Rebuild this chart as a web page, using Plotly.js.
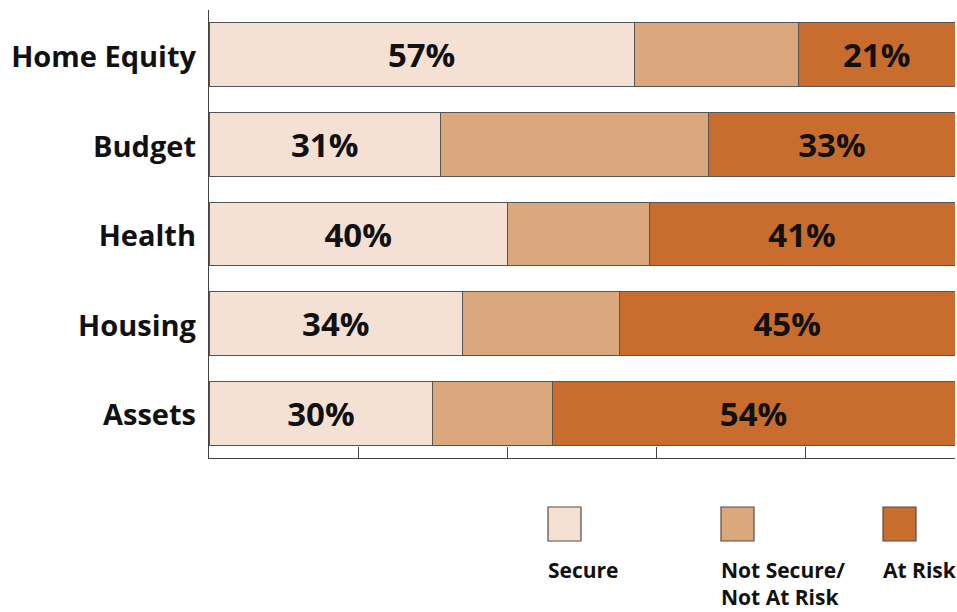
<!DOCTYPE html>
<html>
<head>
<meta charset="utf-8">
<script src="https://cdn.plot.ly/plotly-3.0.1.min.js"></script>
<style>html,body{margin:0;padding:0;background:#fff;}#chart{width:957px;height:612px;}</style>
</head>
<body>
<div id="chart"></div>
<script>
const categories = ["Home Equity", "Budget", "Health", "Housing", "Assets"];
const seriesNames = ["Secure", "Not Secure/<br>Not At Risk", "At Risk"];
const secure = [57, 31, 40, 34, 30];
const notSecure = [22, 36, 19, 21, 16];
const atRisk = [21, 33, 41, 45, 54];
const showLabel = [true, false, true];
const colors = ["#F5E1D4", "#DBA77C", "#C96D2E"];

const FONT = "Open Sans, Liberation Sans, sans-serif";
const values = [secure, notSecure, atRisk];

const traces = values.map((v, i) => ({
  type: "bar",
  orientation: "h",
  name: seriesNames[i],
  y: categories,
  x: v,
  marker: {color: colors[i], line: {color: "#555555", width: 1}},
  text: showLabel[i] ? v.map(d => d + "%") : v.map(() => ""),
  textposition: "inside",
  insidetextanchor: "middle",
  textangle: 0,
  textfont: {family: FONT, size: 33, color: "#111111", weight: 700},
  hoverinfo: "skip",
  showlegend: false
}));

// plot area in pixels
const L = 209, R = 955, T = 10, B = 458, W = 957, H = 612;
const px = x => (x - L) / (R - L);
const py = y => (B - y) / (B - T);

const swatchX = [548, 721, 883];
const shapes = swatchX.map((x, i) => ({
  type: "rect", xref: "paper", yref: "paper",
  x0: px(x), x1: px(x + 33), y0: py(507), y1: py(541),
  fillcolor: colors[i], line: {color: "#5a4a40", width: 1.2}
}));
const annotations = swatchX.map((x, i) => ({
  xref: "paper", yref: "paper", x: px(x - 2), y: py(554),
  xanchor: "left", yanchor: "top", align: "left", showarrow: false,
  text: seriesNames[i],
  font: {family: FONT, size: 21, color: "#111111", weight: 700}
}));

const layout = {
  width: W, height: H,
  margin: {l: L, r: W - R, t: T, b: H - B, pad: 0},
  barmode: "stack",
  bargap: 0.29,
  paper_bgcolor: "#ffffff",
  plot_bgcolor: "#ffffff",
  xaxis: {
    range: [0, 100], dtick: 20, tick0: 0,
    showgrid: false, zeroline: false,
    showline: true, linecolor: "#444444", linewidth: 1.2,
    ticks: "inside", ticklen: 11, tickcolor: "#444444", tickwidth: 1.2,
    showticklabels: false, fixedrange: true
  },
  yaxis: {
    range: [4.5, -0.5],
    showgrid: false, zeroline: false,
    showline: true, linecolor: "#444444", linewidth: 1.2,
    ticks: "", ticklabelstandoff: 6, ticklabelshift: -2,
    tickfont: {family: FONT, size: 29, color: "#111111", weight: 700},
    fixedrange: true
  },
  shapes: shapes,
  annotations: annotations,
  showlegend: false
};

Plotly.newPlot("chart", traces, layout, {displayModeBar: false, staticPlot: true});
</script>
</body>
</html>
